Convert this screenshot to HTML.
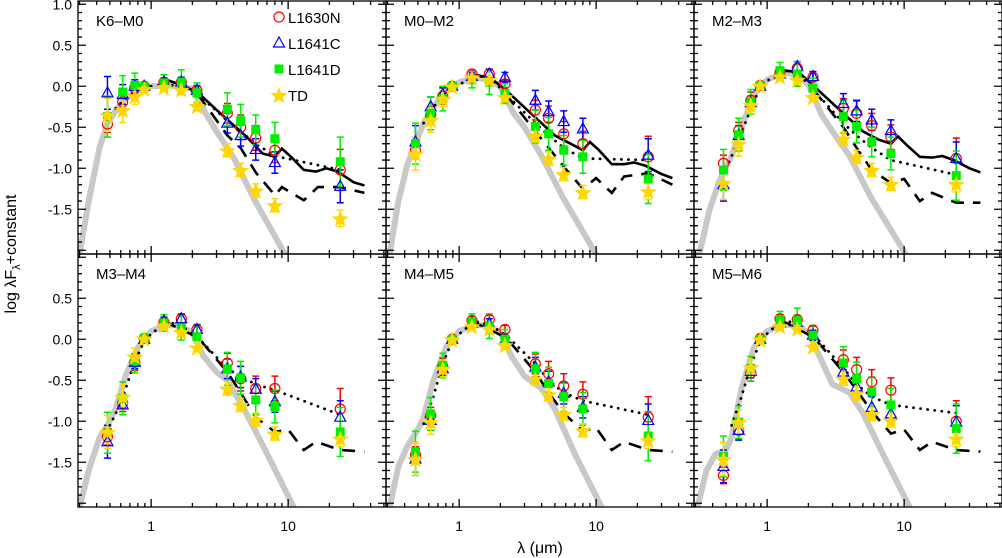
<!DOCTYPE html>
<html><head><meta charset="utf-8"><style>
body{margin:0;background:#fff;}
svg{display:block;font-family:"Liberation Sans",sans-serif;}
</style></head><body>
<svg id="c" width="1002" height="558" viewBox="0 0 1002 558"></svg>
<script>
const wavelengths=[0.48,0.62,0.76,0.89,1.24,1.66,2.16,3.6,4.5,5.8,8.0,24];
const panelLabels=["K6\u2013M0","M0\u2013M2","M2\u2013M3","M3\u2013M4","M4\u2013M5","M5\u2013M6"];
const seriesNames=["L1630N","L1641C","L1641D","TD"];
const l1630n=[
[-0.46,-0.19,-0.02,0,0.05,0.05,-0.05,-0.33,-0.5,-0.63,-0.78,-1.02],
[-0.78,-0.35,-0.12,0,0.15,0.15,0.03,-0.29,-0.39,-0.58,-0.7,-0.86],
[-0.94,-0.54,-0.17,0.01,0.17,0.22,0.11,-0.27,-0.33,-0.48,-0.62,-0.88],
[-1.19,-0.78,-0.28,0.01,0.21,0.25,0.12,-0.29,-0.48,-0.6,-0.6,-0.85],
[-1.41,-0.93,-0.33,0,0.23,0.24,0.12,-0.3,-0.42,-0.57,-0.67,-0.95],
[-1.66,-1.11,-0.41,0.01,0.25,0.24,0.11,-0.25,-0.37,-0.52,-0.62,-1.0]];
const l1641c=[
[-0.08,-0.1,0,0,0.05,0.05,-0.05,-0.45,-0.6,-0.77,-0.93,-1.22],
[-0.68,-0.25,-0.1,0,0.12,0.15,0.11,-0.17,-0.31,-0.43,-0.52,-0.84],
[-1.2,-0.6,-0.2,0,0.15,0.24,0.12,-0.21,-0.3,-0.41,-0.54,-0.88],
[-1.25,-0.8,-0.28,0,0.22,0.25,0.12,-0.36,-0.46,-0.61,-0.76,-0.95],
[-1.46,-0.99,-0.36,0,0.2,0.19,-0.01,-0.34,-0.52,-0.66,-0.83,-0.99],
[-1.55,-1.11,-0.39,0,0.2,0.2,0.05,-0.4,-0.58,-0.83,-0.91,-1.01]];
const l1641d=[
[-0.37,-0.07,0.01,0,0.04,0.05,-0.08,-0.28,-0.42,-0.53,-0.64,-0.92],
[-0.7,-0.33,-0.15,0,0.08,0.05,-0.09,-0.49,-0.58,-0.78,-0.86,-1.13],
[-1.02,-0.59,-0.19,0.01,0.19,0.15,-0.02,-0.37,-0.49,-0.68,-0.82,-1.09],
[-1.14,-0.72,-0.26,0.01,0.2,0.14,0.03,-0.36,-0.47,-0.74,-0.82,-1.13],
[-1.37,-0.91,-0.32,0,0.21,0.16,0,-0.36,-0.54,-0.7,-0.85,-1.18],
[-1.43,-1.01,-0.36,0,0.24,0.23,0.05,-0.29,-0.48,-0.64,-0.8,-1.09]];
const tdStars=[
[-0.35,-0.29,-0.12,-0.03,-0.01,-0.04,-0.24,-0.78,-1.02,-1.27,-1.45,-1.61],
[-0.82,-0.41,-0.15,0,0.11,0.08,-0.13,-0.6,-0.88,-1.07,-1.29,-1.28],
[-1.18,-0.7,-0.23,0.01,0.12,0.08,-0.13,-0.64,-0.86,-1.02,-1.19,-1.19],
[-1.13,-0.7,-0.21,0.01,0.17,0.09,-0.1,-0.6,-0.8,-0.98,-1.15,-1.21],
[-1.46,-1.01,-0.36,0,0.16,0.13,-0.07,-0.48,-0.67,-0.91,-1.11,-1.23],
[-1.46,-1.01,-0.34,0,0.16,0.13,-0.09,-0.48,-0.66,-0.91,-0.99,-1.21]];
const errRed=[0.1,0.1,0.1,0.04,0.05,0.05,0.05,0.12,0.15,0.15,0.15,0.25];
const errBlue=[0.2,0.12,0.08,0.04,0.05,0.06,0.06,0.12,0.13,0.13,0.13,0.2];
const errGreen=[0.25,0.2,0.15,0.04,0.1,0.15,0.12,0.2,0.2,0.18,0.2,0.3];
const errYellow=[0.2,0.15,0.1,0.04,0.04,0.05,0.05,0.08,0.08,0.08,0.08,0.1];
const photosphere=[
[[0.3,-2.05],[0.35,-1.4],[0.42,-0.75],[0.48,-0.45],[0.55,-0.3],[0.65,-0.15],[0.8,-0.05],[1.0,0],[1.3,0.01],[1.6,0],[2.0,-0.03],[2.5,-0.33],[3,-0.55],[4,-0.87],[5.7,-1.39],[9.5,-2.05]],
[[0.31,-2.05],[0.36,-1.4],[0.42,-0.95],[0.48,-0.7],[0.55,-0.45],[0.65,-0.25],[0.8,-0.07],[1.0,0.05],[1.3,0.1],[1.6,0.09],[2.0,0.0],[2.5,-0.33],[3,-0.5],[4,-0.85],[5.7,-1.35],[10,-2.05]],
[[0.32,-2.05],[0.38,-1.5],[0.45,-1.15],[0.55,-0.85],[0.65,-0.5],[0.8,-0.1],[1.0,0.08],[1.3,0.16],[1.6,0.15],[2.0,0.02],[2.5,-0.35],[3,-0.55],[4,-0.85],[5.7,-1.35],[10.3,-2.05]],
[[0.3,-2.05],[0.35,-1.6],[0.42,-1.2],[0.48,-1.05],[0.55,-0.85],[0.65,-0.45],[0.8,-0.1],[1.0,0.1],[1.3,0.17],[1.6,0.17],[2.0,0.08],[2.4,-0.2],[3,-0.4],[3.6,-0.5],[4.7,-0.83],[6.8,-1.35],[11,-2.05]],
[[0.31,-2.05],[0.36,-1.55],[0.42,-1.3],[0.5,-1.1],[0.55,-0.95],[0.65,-0.5],[0.8,-0.1],[1.0,0.1],[1.3,0.17],[1.6,0.17],[2.0,0.08],[2.4,-0.2],[3,-0.45],[4,-0.6],[5,-0.85],[7,-1.4],[11,-2.05]],
[[0.31,-2.05],[0.36,-1.6],[0.42,-1.4],[0.5,-1.35],[0.55,-1.2],[0.65,-0.6],[0.8,-0.1],[1.0,0.1],[1.3,0.18],[1.6,0.17],[2.0,0.08],[2.4,-0.2],[3,-0.55],[4,-0.65],[5,-0.9],[7,-1.4],[11,-2.05]]];
const solidModel=[
[[1.24,0.09],[1.7,0.01],[2.2,-0.08],[3.2,-0.33],[5,-0.62],[6.5,-0.82],[8,-0.86],[9,-0.76],[10.5,-0.86],[13,-1.02],[16,-1.04],[19,-1.0],[23,-1.04],[30,-1.17],[36,-1.21]],
[[1.24,0.15],[1.7,0.1],[2.2,-0.05],[3.2,-0.3],[5,-0.6],[6.5,-0.7],[8,-0.78],[9,-0.68],[10.5,-0.78],[13,-0.95],[16,-0.95],[19,-0.93],[23,-0.97],[30,-1.07],[36,-1.12]],
[[1.24,0.2],[1.7,0.17],[2.2,0.0],[3.2,-0.25],[5,-0.55],[6.5,-0.65],[8,-0.7],[9,-0.61],[10.5,-0.72],[13,-0.86],[16,-0.87],[19,-0.85],[23,-0.9],[30,-1.0],[36,-1.05]],
[],[],[]];
const dottedModel=[
[[0.55,-0.27],[0.65,-0.15],[0.8,-0.05],[1.0,0],[1.3,0.02],[1.7,0.0],[2.2,-0.1],[3.6,-0.42],[4.5,-0.55],[5.8,-0.7],[8,-0.85],[24,-1.02]],
[[0.55,-0.45],[0.65,-0.25],[0.8,-0.08],[1.0,0.02],[1.3,0.12],[1.7,0.1],[2.2,-0.1],[3.6,-0.45],[4.5,-0.6],[5.8,-0.75],[8,-0.88],[24,-0.9]],
[[0.5,-1.0],[0.6,-0.72],[0.75,-0.3],[0.9,0.01],[1.3,0.2],[1.7,0.15],[2.2,-0.05],[3.6,-0.45],[4.5,-0.6],[5.8,-0.75],[8,-0.9],[24,-1.08]],
[[0.5,-1.05],[0.6,-0.78],[0.75,-0.3],[0.9,0.0],[1.3,0.22],[1.7,0.15],[2.2,0.02],[3.6,-0.36],[4.5,-0.45],[5.8,-0.55],[8,-0.62],[24,-0.92]],
[[0.55,-1.03],[0.65,-0.7],[0.75,-0.32],[0.9,0.0],[1.3,0.22],[1.7,0.17],[2.2,0.05],[3.6,-0.3],[4.5,-0.5],[5.8,-0.65],[8,-0.75],[24,-0.92]],
[[0.55,-1.05],[0.65,-0.7],[0.75,-0.35],[0.9,0.0],[1.3,0.24],[1.7,0.18],[2.2,0.05],[3.6,-0.35],[4.5,-0.55],[5.8,-0.7],[8,-0.8],[24,-0.9]]];
const dashedModel=[
[[2.2,-0.1],[3.6,-0.6],[4.5,-0.75],[5.8,-1.05],[8,-1.33],[9,-1.23],[13,-1.39],[16.5,-1.23],[24,-1.23],[36,-1.3]],
[[2.2,-0.1],[3.6,-0.55],[4.5,-0.75],[5.8,-0.98],[8,-1.25],[10,-1.12],[13,-1.3],[16,-1.1],[24,-1.06],[36,-1.2]],
[[2.2,-0.05],[3.6,-0.5],[4.5,-0.75],[5.8,-1.02],[8,-1.18],[10,-1.13],[13,-1.4],[16,-1.3],[24,-1.42],[36,-1.42]],
[[1.24,0.22],[2.2,0.02],[3.6,-0.4],[4.5,-0.65],[5.8,-0.95],[8,-1.13],[10,-1.1],[13,-1.35],[16,-1.25],[24,-1.35],[36,-1.37]],
[[1.24,0.22],[2.2,0.02],[3.6,-0.4],[4.5,-0.65],[5.8,-0.9],[8,-1.12],[10,-1.08],[13,-1.35],[16,-1.25],[24,-1.35],[36,-1.37]],
[[1.24,0.24],[2.2,0.02],[3.6,-0.4],[4.5,-0.62],[5.8,-0.88],[8,-1.15],[10,-1.1],[13,-1.35],[16,-1.25],[24,-1.35],[36,-1.37]]];
const yTickLabels=["1.0","0.5","0.0","-0.5","-1.0","-1.5"];
const yTickValues=[1.0,0.5,0.0,-0.5,-1.0,-1.5];
const xTickLabels=["1","10"];
const xTickValues=[1,10];

const NS="http://www.w3.org/2000/svg";
const svg=document.getElementById('c');
function mk(tag,attrs,parent){const e=document.createElementNS(NS,tag);for(const k in attrs)e.setAttribute(k,attrs[k]);(parent||svg).appendChild(e);return e;}
const PX=[78,386,694],PY=[1,254],PW=308,PH=253;
const YTOP=1.04,YBOT=YTOP-PH/82,LXMIN=Math.log10(0.2925),XS=137;
function xs(i,l){return PX[i%3]+(Math.log10(l)-LXMIN)*XS;}
function ys(i,v){return PY[Math.floor(i/3)]+(YTOP-v)*82;}
function pathFrom(i,pts){return pts.map((p,k)=>(k?'L':'M')+xs(i,p[0]).toFixed(1)+' '+ys(i,p[1]).toFixed(1)).join(' ');}
function starPath(cx,cy,R){let d='';for(let k=0;k<10;k++){const r=k%2?R*0.42:R;const a=-Math.PI/2+k*Math.PI/5;d+=(k?'L':'M')+(cx+r*Math.cos(a)).toFixed(1)+' '+(cy+r*Math.sin(a)).toFixed(1);}return d+'Z';}
const defs=mk('defs',{});
for(let i=0;i<6;i++){
  const cp=mk('clipPath',{id:'cp'+i},defs);
  mk('rect',{x:PX[i%3],y:PY[Math.floor(i/3)],width:PW,height:PH},cp);
}
const series=[l1630n,l1641c,l1641d,tdStars];
const errs=[errRed,errBlue,errGreen,errYellow];
const ecol=['#ff0000','#0000ff','#00ee00','#ffd700'];
for(let i=0;i<6;i++){
  const g=mk('g',{'clip-path':'url(#cp'+i+')'});
  
  
  const ph=mk('path',{d:pathFrom(i,photosphere[i]),fill:'none',stroke:'#c8c8c8','stroke-width':6,'stroke-linejoin':'round'},g);
  
  
  if(solidModel[i].length){
    const s=mk('path',{d:pathFrom(i,solidModel[i]),fill:'none',stroke:'#000','stroke-width':2.6},g);
    
    
  }
  const dt=mk('path',{d:pathFrom(i,dottedModel[i]),fill:'none',stroke:'#000','stroke-width':2.8,'stroke-dasharray':'0.1 7','stroke-linecap':'round'},g);
  
  
  const ds=mk('path',{d:pathFrom(i,dashedModel[i]),fill:'none',stroke:'#000','stroke-width':2.6,'stroke-dasharray':'13 9'},g);
  
  
  // error bars
  for(let s=0;s<4;s++){
    for(let k=0;k<wavelengths.length;k++){
      const x=xs(i,wavelengths[k]),v=series[s][i][k],e=errs[s][k];
      const y1=ys(i,v+e),y2=ys(i,v-e);
      const eb=mk('path',{d:`M${x} ${y1}L${x} ${y2}M${x-3.5} ${y1}L${x+3.5} ${y1}M${x-3.5} ${y2}L${x+3.5} ${y2}`,stroke:ecol[s],'stroke-width':1.5,fill:'none'},g);
      
      
    }
  }
  for(let s=0;s<4;s++){
    for(let k=0;k<wavelengths.length;k++){
      const x=xs(i,wavelengths[k]),y=ys(i,series[s][i][k]);
      let m;
      if(s===0)m=mk('circle',{cx:x,cy:y,r:5,fill:'none',stroke:'#ff0000','stroke-width':1.2},g);
      else if(s===1)m=mk('path',{d:`M${x} ${y-6}L${x+5.5} ${y+4}L${x-5.5} ${y+4}Z`,fill:'none',stroke:'#0000ff','stroke-width':1.2},g);
      else if(s===2)m=mk('rect',{x:x-4.5,y:y-4.5,width:9,height:9,fill:'#00ee00'},g);
      else m=mk('path',{d:starPath(x,y+1,9),fill:'#ffd700'},g);
      
      
    }
  }
  // frame and ticks
  const x0=PX[i%3],y0=PY[Math.floor(i/3)];
  const ax=mk('g',{stroke:'#000','stroke-width':1.3,fill:'none'});
  
  
  mk('rect',{x:x0,y:y0,width:PW,height:PH},ax);
  let d='';
  for(let v=-2.0;v<=1.0001;v+=0.1){
    const vv=Math.round(v*10)/10;const y=ys(i,vv);
    if(y<y0||y>y0+PH)continue;
    const L=(Math.abs(vv*2-Math.round(vv*2))<1e-6)?8:4;
    d+=`M${x0} ${y}h${L}M${x0+PW} ${y}h${-L}`;
  }
  for(let dec=-1;dec<=1;dec++){for(let m=1;m<=9;m++){
    const l=m*Math.pow(10,dec);const x=xs(i,l);
    if(x<x0||x>x0+PW)continue;
    const L=m===1?8:4;
    d+=`M${x} ${y0+PH}v${-L}M${x} ${y0}v${L}`;
  }}
  mk('path',{d:d},ax);
  const t=mk('text',{x:x0+18,y:y0+25,'font-size':15,fill:'#000'});
  t.textContent=panelLabels[i];
  
  
}
// y tick labels
for(let r=0;r<2;r++){
  for(let k=0;k<yTickValues.length;k++){
    if(r===1&&yTickValues[k]>0.9)continue;
    const t=mk('text',{x:72,y:ys(r*3,yTickValues[k])+5,'font-size':14,'text-anchor':'end',fill:'#000'});
    t.textContent=yTickLabels[k];
    
    
  }
}
for(let c=0;c<3;c++){
  for(let k=0;k<xTickValues.length;k++){
    const t=mk('text',{x:xs(3+c,xTickValues[k]),y:531,'font-size':14,'text-anchor':'middle',fill:'#000'});
    t.textContent=xTickLabels[k];
    
    
  }
}
const xt=mk('text',{x:540,y:553,'font-size':16,'text-anchor':'middle',fill:'#000'});
xt.textContent='\u03bb (\u03bcm)';


const yt=mk('text',{transform:'translate(16,254) rotate(-90)','font-size':16,'text-anchor':'middle',fill:'#000'});
yt.innerHTML='log \u03bbF<tspan dy="4" font-size="11">\u03bb</tspan><tspan dy="-4">+constant</tspan>';


// legend
const lg=mk('g',{});


const ly=[17,43,69,95],lx=279;
for(let s=0;s<4;s++){
  const y=ly[s];let m;
  if(s===0)m=mk('circle',{cx:lx,cy:y,r:5,fill:'none',stroke:'#ff0000','stroke-width':1.2},lg);
  else if(s===1)m=mk('path',{d:`M${lx} ${y-6}L${lx+5.5} ${y+4}L${lx-5.5} ${y+4}Z`,fill:'none',stroke:'#0000ff','stroke-width':1.2},lg);
  else if(s===2)m=mk('rect',{x:lx-4.5,y:y-4.5,width:9,height:9,fill:'#00ee00'},lg);
  else m=mk('path',{d:starPath(lx,y+1,9),fill:'#ffd700'},lg);
  
  
  const t=mk('text',{x:288,y:y+6,'font-size':15,fill:'#000'},lg);
  t.textContent=seriesNames[s];
  
  
}
</script>
</body></html>
